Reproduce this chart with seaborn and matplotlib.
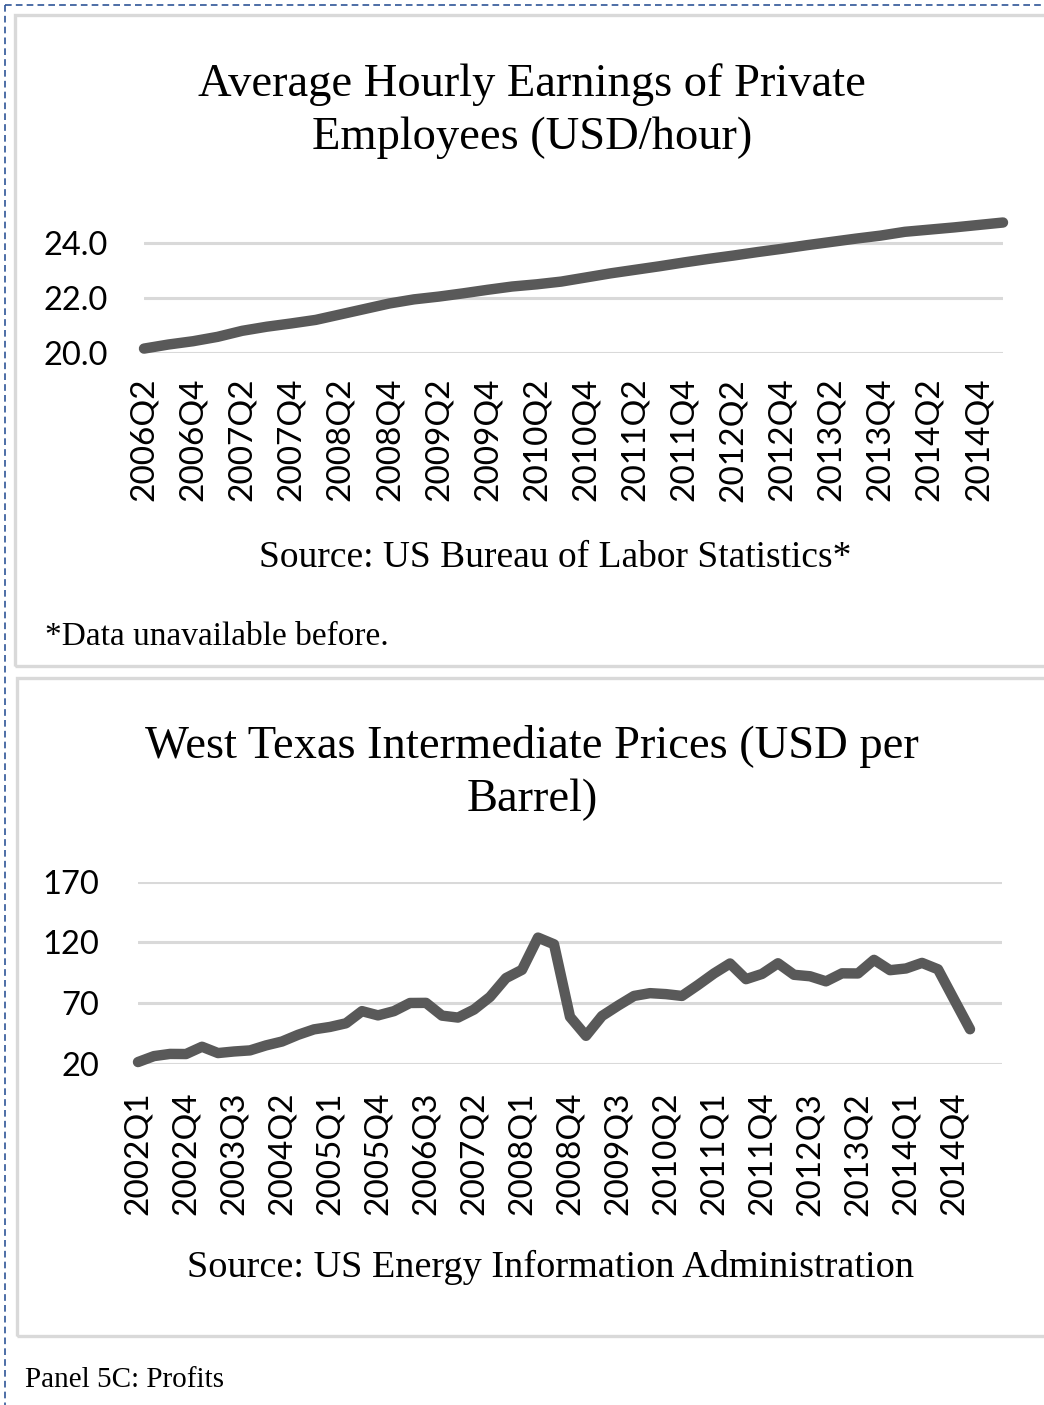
import numpy as np
import pandas as pd
import matplotlib
matplotlib.use("Agg")
import matplotlib.pyplot as plt
import seaborn as sns
from matplotlib.patches import Rectangle
from matplotlib.lines import Line2D

# Average hourly earnings, private employees (USD/hour), 2006Q2 - 2015Q1
wage_quarters = [f"{y}Q{q}" for y in range(2006, 2016) for q in range(1, 5)][1:37]
wage_values = [20.15, 20.30, 20.42, 20.58, 20.80, 20.95, 21.07, 21.20, 21.40,
               21.60, 21.80, 21.95, 22.05, 22.17, 22.30, 22.42, 22.50, 22.60,
               22.75, 22.90, 23.03, 23.16, 23.30, 23.43, 23.55, 23.68, 23.80,
               23.93, 24.05, 24.17, 24.28, 24.42, 24.50, 24.58, 24.67, 24.76]

# WTI crude price (USD per barrel), 2002Q1 - 2015Q1
wti_quarters = [f"{y}Q{q}" for y in range(2002, 2016) for q in range(1, 5)][:53]
wti_values = [21.6, 26.5, 28.3, 28.2, 34.2, 29.0, 30.3, 31.2, 35.3, 38.5,
              44.0, 48.5, 50.5, 53.5, 63.5, 60.0, 63.5, 70.2, 70.3, 59.8,
              58.2, 64.8, 75.2, 90.7, 97.5, 124.0, 118.5, 58.8, 43.2, 59.5,
              68.0, 76.0, 78.3, 77.5, 76.0, 85.0, 94.5, 102.7, 89.8, 94.1,
              102.9, 93.4, 92.2, 88.0, 94.6, 94.5, 105.7, 97.2, 98.6, 103.2,
              97.9, 73.2, 48.6]

wage_ticks = [20, 22, 24]
wti_ticks = [20, 70, 120, 170]

W, H = 1044, 1405
LINE = "#595959"
GRID = "#D9D9D9"
SERIF = ["Liberation Serif", "DejaVu Serif"]

sns.set_style("white")
plt.rcParams["font.family"] = ["Lato", "DejaVu Sans"]
plt.rcParams["text.color"] = "black"
plt.rcParams["xtick.color"] = "black"
plt.rcParams["ytick.color"] = "black"

fig = plt.figure(figsize=(W / 100, H / 100), dpi=100)


def fx(px):
    return px / W


def fy(py):
    return 1 - py / H


# outer dashed frame and panel boxes
fig.add_artist(Line2D([fx(5), fx(5)], [fy(5), 0], color="#2F5597", lw=1.2,
                      ls=(0, (4, 2.5))))
fig.add_artist(Line2D([fx(5), 1], [fy(5), fy(5)], color="#2F5597", lw=1.2,
                      ls=(0, (4, 2.5))))
fig.add_artist(Rectangle((fx(15), fy(666)), fx(1100), (666 - 15) / H,
                         fill=False, ec=GRID, lw=2.4))
fig.add_artist(Rectangle((fx(17), fy(1336)), fx(1100), (1336 - 678) / H,
                         fill=False, ec=GRID, lw=2.4))


def style_axis(ax, ticks, fmt, xpad, ypad):
    ax.set_yticks(ticks)
    ax.set_yticklabels([fmt.format(t) for t in ticks])
    ax.grid(axis="y", color=GRID, lw=2.2)
    ax.grid(axis="x", visible=False)
    ax.set_axisbelow(True)
    for s in ax.spines.values():
        s.set_visible(False)
    ax.tick_params(axis="y", length=0, labelsize=23.5, pad=ypad)
    ax.tick_params(axis="x", length=0, labelsize=24, pad=xpad, rotation=90)
    ax.set_xlabel("")
    ax.set_ylabel("")


# top panel: hourly earnings
ax1 = fig.add_axes([fx(144), fy(352.7), fx(1003 - 144), 136.75 / H])
df1 = pd.DataFrame({"quarter": wage_quarters, "usd": wage_values})
sns.lineplot(data=df1, x="quarter", y="usd", ax=ax1, color=LINE, lw=7.5,
             solid_capstyle="round", solid_joinstyle="round", clip_on=False)
ax1.set_xlim(0, len(wage_quarters) - 1)
ax1.set_ylim(20, 25)
ax1.set_xticks(range(0, len(wage_quarters), 2))
ax1.set_xticklabels(wage_quarters[::2])
style_axis(ax1, wage_ticks, "{:.1f}", 18, 26)

# bottom panel: WTI prices
ax2 = fig.add_axes([fx(138), fy(1064), fx(1002 - 138), 182.3 / H])
df2 = pd.DataFrame({"quarter": wti_quarters, "usd": wti_values})
sns.lineplot(data=df2, x="quarter", y="usd", ax=ax2, color=LINE, lw=7.5,
             solid_capstyle="round", solid_joinstyle="round", clip_on=False)
ax2.set_xlim(0, 54)
ax2.set_ylim(20, 170)
ax2.set_xticks(range(0, len(wti_quarters) - 1, 3))
ax2.set_xticklabels(wti_quarters[:-1:3])
style_axis(ax2, wti_ticks, "{:.0f}", 20, 28)

# titles and notes
fig.text(fx(532), fy(111), "Average Hourly Earnings of Private\nEmployees (USD/hour)",
         ha="center", va="center", fontsize=33.5, family=SERIF, linespacing=1.3)
fig.text(fx(555), fy(558), "Source: US Bureau of Labor Statistics*",
         ha="center", va="center", fontsize=27, family=SERIF)
fig.text(fx(45), fy(637), "*Data unavailable before.",
         ha="left", va="center", fontsize=24, family=SERIF)
fig.text(fx(532), fy(773), "West Texas Intermediate Prices (USD per\nBarrel)",
         ha="center", va="center", fontsize=33.5, family=SERIF, linespacing=1.3)
fig.text(fx(551), fy(1267), "Source: US Energy Information Administration",
         ha="center", va="center", fontsize=27.5, family=SERIF)
fig.text(fx(25), fy(1380), "Panel 5C: Profits",
         ha="left", va="center", fontsize=21, family=SERIF)

fig.savefig("out.png", dpi=100)
